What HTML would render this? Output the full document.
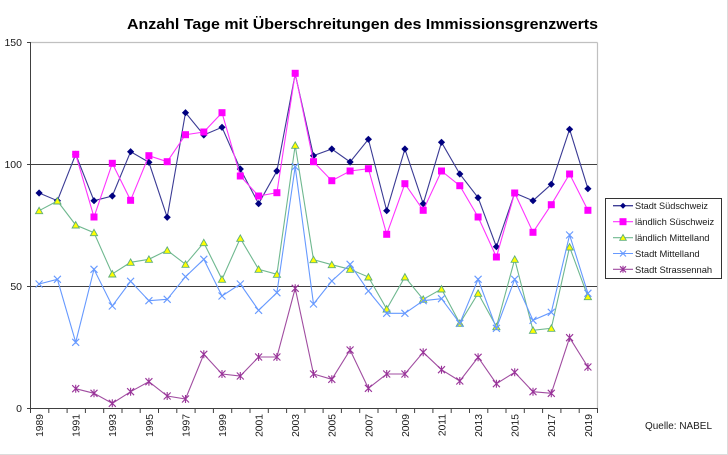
<!DOCTYPE html>
<html><head><meta charset="utf-8"><style>
html,body{margin:0;padding:0;background:#fff;}
svg{display:block;}
text{font-family:"Liberation Sans",Arial,sans-serif;fill:#1a1a1a;}
</style></head><body>
<svg width="728" height="455" viewBox="0 0 728 455" xmlns="http://www.w3.org/2000/svg">
<defs>
<marker id="mDia" markerUnits="userSpaceOnUse" markerWidth="10" markerHeight="10" refX="5" refY="5" overflow="visible"><path d="M5,1.4 L8.6,5 L5,8.6 L1.4,5Z" fill="#000080"/></marker>
<marker id="mSq" markerUnits="userSpaceOnUse" markerWidth="10" markerHeight="10" refX="5" refY="5" overflow="visible"><rect x="1.5" y="1.5" width="7" height="7" fill="#ff00ff"/></marker>
<marker id="mTri" markerUnits="userSpaceOnUse" markerWidth="10" markerHeight="10" refX="5" refY="5" overflow="visible"><path d="M5,1.6 L8.6,8 L1.4,8Z" fill="#ffff00" stroke="#5fae7a" stroke-width="0.9"/></marker>
<marker id="mX" markerUnits="userSpaceOnUse" markerWidth="10" markerHeight="10" refX="5" refY="5" overflow="visible"><path d="M1.5,1.5 L8.5,8.5 M8.5,1.5 L1.5,8.5" stroke="#6699ff" stroke-width="1.1"/></marker>
<marker id="mAst" markerUnits="userSpaceOnUse" markerWidth="10" markerHeight="10" refX="5" refY="5" overflow="visible"><path d="M1.5,1.5 L8.5,8.5 M8.5,1.5 L1.5,8.5 M5,1 L5,9" stroke="#993399" stroke-width="1.1"/></marker>
</defs>

<!-- outer light border bottom/right -->
<line x1="0" y1="454.5" x2="728" y2="454.5" stroke="#dcdcdc" stroke-width="1"/>
<line x1="727.5" y1="0" x2="727.5" y2="455" stroke="#dcdcdc" stroke-width="1"/>

<!-- title -->
<text x="127" y="29" font-size="15.2" font-weight="bold" textLength="471" lengthAdjust="spacingAndGlyphs" style="fill:#000">Anzahl Tage mit Überschreitungen des Immissionsgrenzwerts</text>

<!-- plot frame -->
<line x1="30" y1="42.5" x2="597.5" y2="42.5" stroke="#c0c0c0" stroke-width="1.2"/>
<line x1="597.5" y1="42.5" x2="597.5" y2="408.5" stroke="#c0c0c0" stroke-width="1.2"/>
<line x1="30" y1="164.5" x2="597" y2="164.5" stroke="#404040" stroke-width="1"/>
<line x1="30" y1="286.5" x2="597" y2="286.5" stroke="#404040" stroke-width="1"/>
<line x1="30.5" y1="42" x2="30.5" y2="409" stroke="#404040" stroke-width="1"/>
<line x1="30" y1="408.5" x2="598" y2="408.5" stroke="#404040" stroke-width="1"/>
<!-- y ticks -->
<path d="M27,42.5H30M27,164.5H30M27,286.5H30M27,408.5H30" stroke="#404040" stroke-width="1"/>
<g font-size="10.5" text-anchor="end">
<text x="22" y="46">150</text>
<text x="22" y="168">100</text>
<text x="22" y="290">50</text>
<text x="22" y="412">0</text>
</g>
<!-- x ticks -->
<path stroke="#404040" stroke-width="1" d="M30.5,408V413M48.8,408V413M67.1,408V413M85.4,408V413M103.7,408V413M122,408V413M140.2,408V413M158.5,408V413M176.8,408V413M195.1,408V413M213.4,408V413M231.7,408V413M250,408V413M268.3,408V413M286.6,408V413M304.9,408V413M323.1,408V413M341.4,408V413M359.7,408V413M378,408V413M396.3,408V413M414.6,408V413M432.9,408V413M451.2,408V413M469.5,408V413M487.8,408V413M506,408V413M524.3,408V413M542.6,408V413M560.9,408V413M579.2,408V413M597.5,408V413"/>
<g font-size="10.3" text-anchor="end">
<text transform="translate(43,414) rotate(-90)">1989</text>
<text transform="translate(79.6,414) rotate(-90)">1991</text>
<text transform="translate(116.2,414) rotate(-90)">1993</text>
<text transform="translate(152.8,414) rotate(-90)">1995</text>
<text transform="translate(189.4,414) rotate(-90)">1997</text>
<text transform="translate(225.9,414) rotate(-90)">1999</text>
<text transform="translate(262.5,414) rotate(-90)">2001</text>
<text transform="translate(299.1,414) rotate(-90)">2003</text>
<text transform="translate(335.7,414) rotate(-90)">2005</text>
<text transform="translate(372.3,414) rotate(-90)">2007</text>
<text transform="translate(408.8,414) rotate(-90)">2009</text>
<text transform="translate(445.4,414) rotate(-90)">2011</text>
<text transform="translate(482,414) rotate(-90)">2013</text>
<text transform="translate(518.6,414) rotate(-90)">2015</text>
<text transform="translate(555.2,414) rotate(-90)">2017</text>
<text transform="translate(591.8,414) rotate(-90)">2019</text>
</g>

<!-- series -->
<polyline fill="none" stroke="#3a3a94" stroke-width="1.1" marker-start="url(#mDia)" marker-mid="url(#mDia)" marker-end="url(#mDia)"
points="39.1,193 57.4,200.7 75.7,154.3 94.0,200.7 112.3,196 130.6,151.7 148.9,162.3 167.2,217.3 185.5,112.7 203.8,135 222.0,127.3 240.3,169 258.6,203.7 276.9,171 295.2,74 313.5,155.7 331.8,149 350.1,162 368.4,139.3 386.7,210.7 404.9,149 423.2,203.7 441.5,142.3 459.8,174 478.1,197.7 496.4,246.7 514.7,193 533.0,200.7 551.3,184.3 569.6,129.3 587.9,188.7"/>
<polyline fill="none" stroke="#ff33ff" stroke-width="1.1" marker-start="url(#mSq)" marker-mid="url(#mSq)" marker-end="url(#mSq)"
points="75.7,154.3 94.0,217 112.3,163.3 130.6,200.3 148.9,155.7 167.2,161.7 185.5,134.7 203.8,132 222.0,112.7 240.3,176 258.6,196 276.9,192.7 295.2,73.3 313.5,161.7 331.8,180.7 350.1,171 368.4,168.7 386.7,234.3 404.9,183.7 423.2,210.3 441.5,171 459.8,185.7 478.1,217 496.4,257 514.7,193 533.0,232.3 551.3,204.7 569.6,174 587.9,210.3"/>
<polyline fill="none" stroke="#6fb88f" stroke-width="1.1" marker-start="url(#mTri)" marker-mid="url(#mTri)" marker-end="url(#mTri)"
points="39.1,210.7 57.4,201 75.7,225 94.0,232.7 112.3,274 130.6,262.3 148.9,259.3 167.2,250.3 185.5,264.3 203.8,242.7 222.0,279.3 240.3,238.3 258.6,269.3 276.9,274.3 295.2,145.3 313.5,259.7 331.8,264.7 350.1,269.3 368.4,277 386.7,309 404.9,277 423.2,299.3 441.5,289 459.8,323.3 478.1,293.3 496.4,326.7 514.7,259.3 533.0,330.3 551.3,328.3 569.6,247 587.9,296.7"/>
<polyline fill="none" stroke="#6699ff" stroke-width="1.1" marker-start="url(#mX)" marker-mid="url(#mX)" marker-end="url(#mX)"
points="39.1,284 57.4,279.3 75.7,342.3 94.0,269.3 112.3,306 130.6,281.3 148.9,300.7 167.2,299.3 185.5,276.7 203.8,259.3 222.0,296 240.3,284 258.6,310.3 276.9,292.7 295.2,166.7 313.5,304 331.8,281 350.1,264.3 368.4,291 386.7,313.3 404.9,313.3 423.2,300.7 441.5,298.7 459.8,323.3 478.1,279.3 496.4,328.3 514.7,279.3 533.0,320.3 551.3,312.3 569.6,235 587.9,293.3"/>
<polyline fill="none" stroke="#a04ca0" stroke-width="1.1" marker-start="url(#mAst)" marker-mid="url(#mAst)" marker-end="url(#mAst)"
points="75.7,388.7 94.0,393.3 112.3,403.3 130.6,391.7 148.9,381.7 167.2,396 185.5,399 203.8,354.3 222.0,374 240.3,376 258.6,357 276.9,357 295.2,288.3 313.5,374 331.8,379.3 350.1,350 368.4,388.3 386.7,374 404.9,374 423.2,352.3 441.5,369.7 459.8,381 478.1,357.3 496.4,383.7 514.7,372.3 533.0,391.7 551.3,393.3 569.6,337.7 587.9,367"/>

<!-- legend -->
<rect x="605.5" y="198.5" width="116" height="80" fill="#fff" stroke="#333" stroke-width="1"/>
<polyline points="613,205.7 633,205.7" stroke="#3a3a94" stroke-width="1.1" marker-mid="url(#mDia)" fill="none"/>
<line x1="613" y1="205.7" x2="633" y2="205.7" stroke="#3a3a94" stroke-width="1.1"/>
<path d="M620,205.7 L623,202.7 L626,205.7 L623,208.7Z" fill="#000080"/>
<line x1="613" y1="221.7" x2="633" y2="221.7" stroke="#ff33ff" stroke-width="1.1"/>
<rect x="619.5" y="218.2" width="7" height="7" fill="#ff00ff"/>
<line x1="613" y1="237.7" x2="633" y2="237.7" stroke="#6fb88f" stroke-width="1.1"/>
<path d="M623,234.5 L626.3,240.3 L619.7,240.3Z" fill="#ffff00" stroke="#5fae7a" stroke-width="0.9"/>
<line x1="613" y1="253.5" x2="633" y2="253.5" stroke="#6699ff" stroke-width="1.1"/>
<path d="M620,250.5 L626,256.5 M626,250.5 L620,256.5" stroke="#6699ff" stroke-width="1.1"/>
<line x1="613" y1="269.3" x2="633" y2="269.3" stroke="#a04ca0" stroke-width="1.1"/>
<path d="M620,266.3 L626,272.3 M626,266.3 L620,272.3 M623,265.8 L623,272.8" stroke="#993399" stroke-width="1.1"/>
<g font-size="9.4">
<text x="635" y="209.2" textLength="73" lengthAdjust="spacingAndGlyphs">Stadt Südschweiz</text>
<text x="635" y="225.2">ländlich Süschweiz</text>
<text x="635" y="241.2">ländlich Mittelland</text>
<text x="635" y="257">Stadt Mittelland</text>
<text x="635" y="272.8">Stadt Strassennah</text>
</g>

<text x="645" y="429" font-size="10" textLength="67" lengthAdjust="spacingAndGlyphs">Quelle: NABEL</text>
</svg>
</body></html>
